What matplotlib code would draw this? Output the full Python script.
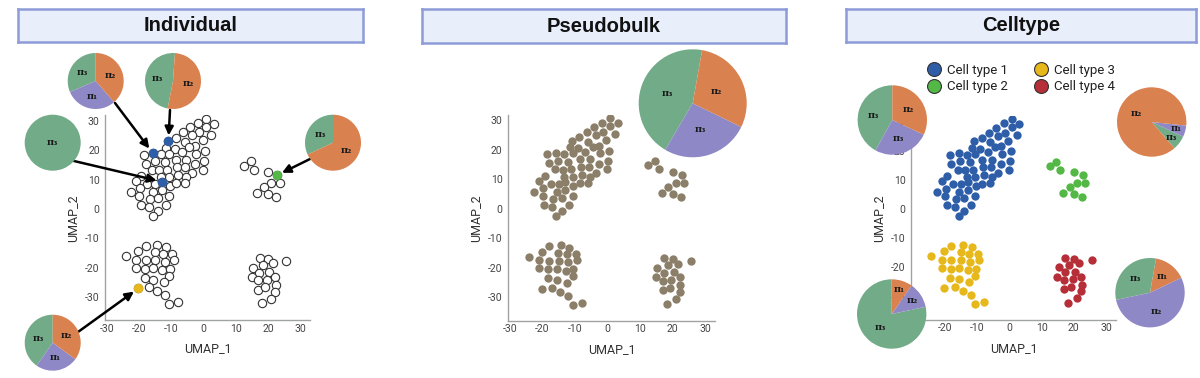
import matplotlib.pyplot as plt
import numpy as np
from matplotlib.lines import Line2D

plt.rcParams["axes.unicode_minus"] = False

W, H = 1200, 378

# UMAP coordinates, one list pair per cluster
c1_x = [0.8, -1.6, 3.1, -4.1, 0.8, -6.4, -1.3, -3.5, 2.3, -8.6, -10.9, -0.3, -5.9, -2.7,
        -11.5, -9.0, -4.5, -13.3, -6.8, -15.8, -18.5, 0.6, -10.7, -2.3, -8.4, -5.4, -15.2,
        -18.0, -12.1, -16.1, -13.7, -11.3, -8.2, -5.6, -2.7, 0.2, -0.1, -3.5, -5.4, -19.3,
        -7.9, -10.7, -13.3, -20.9, -17.4, -15.0, -12.9, -10.5, -8.4, -5.9, -19.7, -22.4,
        -15.6, -13.0, -19.9, -16.6, -14.0, -10.7, -19.5, -16.9, -11.8, -14.0, -15.8]
c1_y = [30.7, 29.3, 29.0, 27.9, 28.1, 26.2, 26.2, 25.1, 25.4, 24.3, 23.2, 23.4, 22.8, 21.5,
        20.9, 20.6, 21.1, 18.6, 19.4, 19.1, 18.5, 19.8, 18.9, 18.9, 16.8, 16.8, 16.4,
        15.5, 16.0, 13.4, 13.2, 13.4, 14.3, 14.3, 15.3, 16.4, 13.4, 12.3, 11.0, 11.2,
        11.5, 11.0, 11.0, 9.6, 8.5, 8.5, 9.3, 7.9, 8.7, 8.9, 7.0, 5.9,
        5.9, 6.4, 4.4, 3.3, 3.8, 4.4, 1.4, 0.6, 1.4, -0.6, -2.4]
c2_x = [12.5, 14.6, 15.7, 20.0, 22.8, 21.0, 23.6, 18.7, 16.6, 20.0, 22.5]
c2_y = [14.8, 16.2, 13.4, 12.7, 11.5, 8.9, 8.9, 7.6, 5.5, 5.1, 4.0]
c3_x = [-18.0, -14.3, -11.7, -20.2, -15.1, -12.5, -9.7, -24.2, -20.9, -18.0, -15.0, -12.1,
        -9.3, -20.9, -18.2, -15.6, -12.8, -10.5, -10.7, -18.3, -15.6, -12.4, -20.2, -16.9,
        -14.5, -12.0, -10.7, -7.9]
c3_y = [-12.5, -12.3, -13.1, -14.5, -14.8, -15.3, -15.3, -16.2, -17.3, -17.5, -17.5, -18.1,
        -17.3, -20.1, -20.4, -20.3, -20.9, -20.4, -22.9, -23.5, -24.1, -25.0, -27.1, -26.8,
        -28.1, -29.5, -32.5, -31.8]
c4_x = [17.4, 20.0, 21.7, 25.5, 15.3, 18.5, 17.3, 20.4, 14.9, 22.2, 17.0, 19.6, 22.4,
        16.9, 19.2, 22.2, 21.0, 18.3]
c4_y = [-16.6, -17.1, -18.6, -17.6, -20.0, -19.1, -21.7, -21.4, -23.2, -23.2, -24.3, -24.1,
        -25.9, -27.5, -26.7, -28.2, -30.6, -32.2]

ticks = [-30, -20, -10, 0, 10, 20, 30]

cell_types = ["Cell type 1", "Cell type 2", "Cell type 3", "Cell type 4"]
cell_colors = ["#2F5EA9", "#53B845", "#E6B81C", "#B62F38"]
bulk_color = "#8C7F69"

GREEN, ORANGE, PURPLE = "#72AB88", "#D9814F", "#8F88C6"

# pies: slice labels, angular shares (degrees) and colours
pie_ind_a = dict(labels=["π₃", "π₁", "π₂"], shares=[113, 108, 139], colors=[GREEN, PURPLE, ORANGE])
pie_ind_b = dict(labels=["π₃", "π₂"], shares=[173, 187], colors=[GREEN, ORANGE])
pie_ind_c = dict(labels=["π₃"], shares=[360], colors=[GREEN])
pie_ind_d = dict(labels=["π₃", "π₂"], shares=[115, 245], colors=[GREEN, ORANGE])
pie_ind_e = dict(labels=["π₃", "π₁", "π₂"], shares=[145, 89, 126], colors=[GREEN, PURPLE, ORANGE])
pie_bulk = dict(labels=["π₃", "π₃", "π₂"], shares=[159.4, 94.6, 106], colors=[GREEN, PURPLE, ORANGE])
pie_ct_a = dict(labels=["π₃", "π₃", "π₂"], shares=[151, 94, 115], colors=[GREEN, PURPLE, ORANGE])
pie_ct_b = dict(labels=["π₃", "π₁", "π₂"], shares=[24, 19, 317], colors=[GREEN, PURPLE, ORANGE])
pie_ct_c = dict(labels=["π₃", "π₂", "π₁"], shares=[282, 43, 35], colors=[GREEN, PURPLE, ORANGE])
pie_ct_d = dict(labels=["π₁", "π₃", "π₂"], shares=[54.5, 112, 193.5], colors=[ORANGE, GREEN, PURPLE])

# highlighted cells in the Individual panel
hl_blue = [10, 19, 46]
hl_green = [4]
hl_yellow = [22]


def rect(x0, y0, x1, y1):
    return [x0 / W, 1 - y1 / H, (x1 - x0) / W, (y1 - y0) / H]


def title_box(x0, y0, x1, y1, text):
    ax = fig.add_axes(rect(x0, y0, x1, y1))
    ax.set_xticks([])
    ax.set_yticks([])
    ax.set_facecolor("#E9EEFB")
    for s in ax.spines.values():
        s.set_color("#8D9CD8")
        s.set_linewidth(1.8)
    ax.text(0.5, 0.5, text, ha="center", va="center", fontsize=14.5, fontweight="bold",
            family="Liberation Sans", color="#111111", transform=ax.transAxes)


def umap_axes(x0, y0, x1, y1):
    ax = fig.add_axes(rect(x0, y0, x1, y1))
    ax.patch.set_alpha(0)
    ax.set_xlim(-30.5, 33)
    ax.set_ylim(-38, 32)
    for s in ["top", "right"]:
        ax.spines[s].set_visible(False)
    for s in ["left", "bottom"]:
        ax.spines[s].set_color("#A0A4A0")
        ax.spines[s].set_linewidth(1.0)
    ax.set_xticks(ticks)
    ax.set_yticks(ticks)
    ax.tick_params(length=0, labelsize=7.5, colors="#444444")
    ax.tick_params(axis="x", pad=2.5)
    ax.tick_params(axis="y", pad=4)
    for lab in ax.get_xticklabels() + ax.get_yticklabels():
        lab.set_family("Roboto")
    ax.set_xlabel("UMAP_1", fontsize=9, family="Roboto", color="#333333", labelpad=6)
    ax.set_ylabel("UMAP_2", fontsize=9, family="Roboto", color="#333333", labelpad=4)
    return ax


def draw_pie(cx, cy, r, start, pie, label_r=0.55):
    ax = fig.add_axes(rect(cx - r, cy - r, cx + r, cy + r))
    wedges, _ = ax.pie(pie["shares"], colors=pie["colors"], startangle=start,
                       counterclock=True, wedgeprops=dict(linewidth=0))
    ax.set_xlim(-1, 1)
    ax.set_ylim(-1, 1)
    if np.isscalar(label_r):
        label_r = [label_r] * len(wedges)
    for w, lab, lr in zip(wedges, pie["labels"], label_r):
        if len(wedges) == 1:
            tx, ty = 0, 0
        else:
            a = np.deg2rad((w.theta1 + w.theta2) / 2)
            tx, ty = lr * np.cos(a), lr * np.sin(a)
        ax.text(tx, ty, lab, ha="center", va="center", fontsize=7, fontweight="bold",
                family="DejaVu Serif", color="#1A1A1A")


def arrow(ax, x, y, tx, ty):
    ax.annotate("", xy=(x, y), xycoords="data", xytext=(tx / W, 1 - ty / H),
                textcoords="figure fraction", annotation_clip=False,
                arrowprops=dict(arrowstyle="-|>,head_length=0.5,head_width=0.25",
                                color="black", lw=1.8, shrinkA=0, shrinkB=4))


fig = plt.figure(figsize=(W / 100, H / 100), dpi=100)

all_x = c1_x + c2_x + c3_x + c4_x
all_y = c1_y + c2_y + c3_y + c4_y

# --- Individual ---
title_box(18, 9, 363, 42, "Individual")
ax1 = umap_axes(105.3, 115.2, 309.8, 320.3)
ax1.scatter(all_x, all_y, s=36, facecolor="white", edgecolor="#333333", linewidth=0.8)
ax1.scatter([c1_x[i] for i in hl_blue], [c1_y[i] for i in hl_blue], s=34, color=cell_colors[0], zorder=3)
ax1.scatter([c2_x[i] for i in hl_green], [c2_y[i] for i in hl_green], s=34, color=cell_colors[1], zorder=3)
ax1.scatter([c3_x[i] for i in hl_yellow], [c3_y[i] for i in hl_yellow], s=34, color=cell_colors[2], zorder=3)
arrow(ax1, c1_x[19], c1_y[19], 115, 103)
arrow(ax1, c1_x[10], c1_y[10], 170, 110)
arrow(ax1, c1_x[46], c1_y[46], 74, 161)
arrow(ax1, c2_x[4], c2_y[4], 310, 159)
arrow(ax1, c3_x[22], c3_y[22], 78, 332)
draw_pie(95.7, 81, 28, 90, pie_ind_a)
draw_pie(173, 81, 28, 86, pie_ind_b)
draw_pie(52.7, 142.7, 28, 90, pie_ind_c)
draw_pie(333, 142.7, 28, 90, pie_ind_d)
draw_pie(52.7, 342.7, 28, 90, pie_ind_e)

# --- Pseudobulk ---
title_box(422, 9, 786, 43, "Pseudobulk")
ax2 = umap_axes(508.1, 114.6, 715, 321)
ax2.scatter(all_x, all_y, s=36, color=bulk_color, linewidth=0)
draw_pie(692.7, 103.3, 54, 80, pie_bulk, label_r=0.5)

# --- Celltype ---
title_box(845.7, 9, 1196, 41.7, "Celltype")
ax3 = umap_axes(911.2, 115.6, 1115.7, 320)
for cx, cy, col, lab in zip([c1_x, c2_x, c3_x, c4_x], [c1_y, c2_y, c3_y, c4_y], cell_colors, cell_types):
    ax3.scatter(cx, cy, s=36, color=col, linewidth=0, label=lab)
handles = [Line2D([], [], marker="o", ls="", markersize=10, markerfacecolor=c,
                  markeredgecolor="#333333", markeredgewidth=0.8) for c in cell_colors]
fig.legend(handles, cell_types, ncol=2, loc="center", bbox_to_anchor=(1021 / W, 1 - 78.7 / H),
           frameon=False, prop=dict(family="Roboto", size=9.5), labelcolor="#222222",
           handlelength=1, handletextpad=0.5, columnspacing=2.0, labelspacing=0.25, borderpad=0)
draw_pie(892.3, 120, 34.7, 90, pie_ct_a)
draw_pie(1151.7, 122, 34.7, -49, pie_ct_b, label_r=[0.72, 0.75, 0.5])
draw_pie(891.7, 314, 34.7, 90, pie_ct_c, label_r=[0.5, 0.72, 0.75])
draw_pie(1150, 292.7, 34.7, 25.5, pie_ct_d, label_r=0.58)

fig.savefig("out.png", dpi=100, facecolor="white")
